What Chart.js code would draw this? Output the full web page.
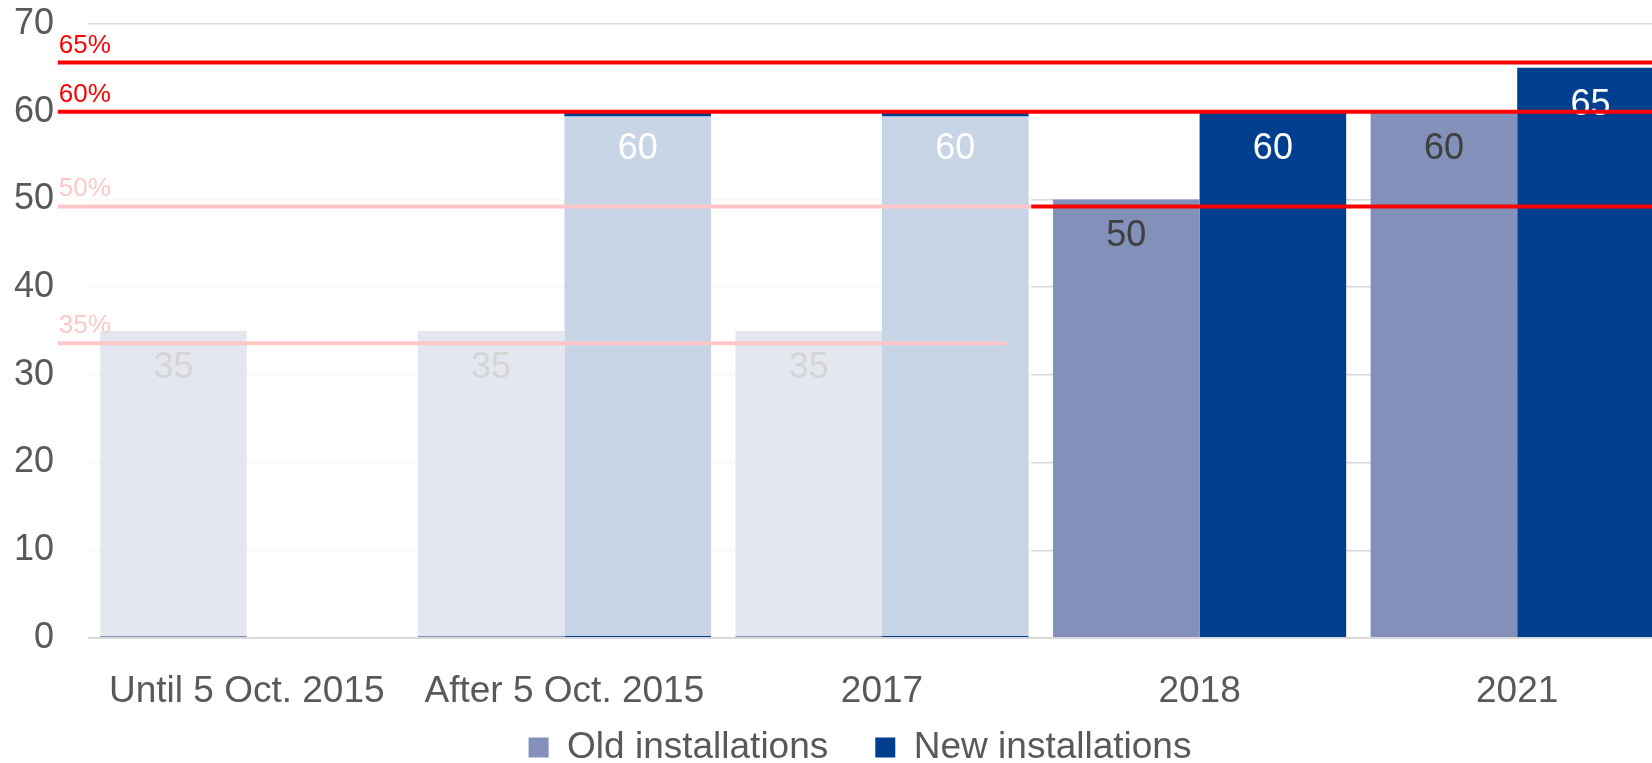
<!DOCTYPE html>
<html>
<head>
<meta charset="utf-8">
<script src="https://cdn.jsdelivr.net/npm/chart.js@4.4.1/dist/chart.umd.min.js"></script>
<style>
  html, body { margin: 0; padding: 0; overflow: hidden; background: #fff; }
  #wrap { width: 1708px; height: 763px; }
</style>
</head>
<body>
<div id="wrap"><canvas id="chart" width="1708" height="763"></canvas></div>
<script>
// Chart data
const categories = ["Until 5 Oct. 2015", "After 5 Oct. 2015", "2017", "2018", "2021"];
const oldInstallations = [35, 35, 35, 50, 60];
const newInstallations = [null, 60, 60, 60, 65];
const targetLabels = ["65%", "60%", "50%", "35%"];
const targetValues = [65.6, 60, 49.2, 33.6];

const FONT = "'Liberation Sans', Arial, sans-serif";
const GREY = "#595959";
const LEGEND_H = 57;

// threshold lines, value labels and the white veil over the older years
const overlayPlugin = {
  id: "overlay",
  beforeLayout(chart) {
    // wide gap between legend items, but keep the legend band short
    const lg = chart.legend;
    if (lg && !lg._shortFit) {
      const fit = lg.fit.bind(lg);
      lg.fit = function () { fit(); this.height = LEGEND_H; };
      lg._shortFit = true;
    }
  },
  afterLayout(chart) {
    const lg = chart.legend;
    lg.left += 22; lg.right += 22;
    lg.top -= 24; // bottom stays at the canvas edge so nothing is clipped
  },
  afterDatasetsDraw(chart) {
    const ctx = chart.ctx;
    const x = chart.scales.x;
    const y = chart.scales.y;

    // value labels inside the bars
    ctx.save();
    ctx.font = "36px " + FONT;
    ctx.textAlign = "center";
    ctx.textBaseline = "middle";
    chart.data.datasets.forEach((ds, i) => {
      chart.getDatasetMeta(i).data.forEach((bar, j) => {
        if (ds.data[j] == null) return;
        ctx.fillStyle = i === 0 ? "#404040" : "#ffffff";
        ctx.fillText(ds.data[j], bar.x, bar.y + 37);
      });
    });
    ctx.restore();

    const startX = x.getPixelForValue(-0.595);
    const drawTarget = (k, endX) => {
      const py = y.getPixelForValue(targetValues[k]);
      ctx.save();
      ctx.strokeStyle = "#ff0000";
      ctx.lineWidth = 4;
      ctx.beginPath();
      ctx.moveTo(startX, py);
      ctx.lineTo(endX, py);
      ctx.stroke();
      ctx.fillStyle = "#ff0000";
      ctx.font = "26px " + FONT;
      ctx.textAlign = "left";
      ctx.textBaseline = "alphabetic";
      ctx.fillText(targetLabels[k], startX + 1, py - 10);
      ctx.restore();
    };

    // lines that sit under the veil
    drawTarget(2, chart.width);
    drawTarget(3, x.getPixelForValue(2.39));

    // veil over the first three categories
    ctx.save();
    ctx.fillStyle = "rgba(255,255,255,0.78)";
    const top = y.getPixelForValue(60) + 4.5;
    const bottom = y.getPixelForValue(0) - 2;
    const left = x.getPixelForValue(-0.6);
    const right = x.getPixelForValue(2.47);
    ctx.fillRect(left, top, right - left, bottom - top);
    ctx.restore();

    // lines above the veil
    drawTarget(0, chart.width);
    drawTarget(1, chart.width);
  }
};

new Chart(document.getElementById("chart"), {
  type: "bar",
  data: {
    labels: categories,
    datasets: [
      {
        label: "Old installations",
        data: oldInstallations,
        backgroundColor: "#8390ba",
        barPercentage: 1,
        categoryPercentage: 0.923
      },
      {
        label: "New installations",
        data: newInstallations,
        backgroundColor: "#003f8f",
        barPercentage: 1,
        categoryPercentage: 0.923
      }
    ]
  },
  options: {
    responsive: false,
    devicePixelRatio: 1,
    animation: false,
    layout: { padding: { top: 0, right: 32, left: 0, bottom: 0 } },
    plugins: {
      legend: {
        position: "bottom",
        labels: {
          boxWidth: 20,
          boxHeight: 20,
          padding: 47,
          color: GREY,
          font: { family: FONT, size: 37 }
        }
      },
      tooltip: { enabled: false }
    },
    scales: {
      x: {
        grid: { display: false, drawTicks: false },
        border: { display: false },
        ticks: { color: GREY, font: { family: FONT, size: 37 }, padding: 32, maxRotation: 0 },
        afterFit(scale) { scale.height = 68; }
      },
      y: {
        min: 0,
        max: 70,
        grid: {
          color: "#d9d9d9",
          lineWidth: (c) => (c.tick && c.tick.value === 0 ? 2 : 1.5),
          drawTicks: false
        },
        border: { display: false },
        ticks: { stepSize: 10, color: GREY, font: { family: FONT, size: 36 }, padding: 34 },
        afterFit(scale) {
          scale.width = 88;
          scale.paddingTop = 24;
          scale.paddingBottom = 0;
        }
      }
    }
  },
  plugins: [overlayPlugin]
});
</script>
</body>
</html>
